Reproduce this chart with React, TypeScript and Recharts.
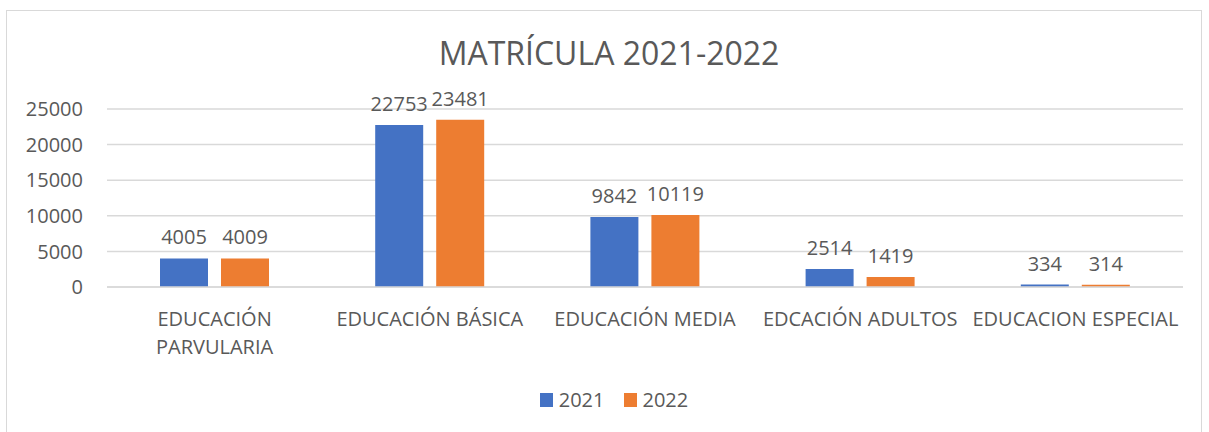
import React from 'react';
import { BarChart, Bar, XAxis, YAxis, CartesianGrid, LabelList, Legend } from 'recharts';

const categories = ['EDUCACIÓN PARVULARIA', 'EDUCACIÓN BÁSICA', 'EDUCACIÓN MEDIA', 'EDCACIÓN ADULTOS', 'EDUCACION ESPECIAL'];
const values2021 = [4005, 22753, 9842, 2514, 334];
const values2022 = [4009, 23481, 10119, 1419, 314];
const yTicks = [0, 5000, 10000, 15000, 20000, 25000];
const seriesNames = ['2021', '2022'];
const title = 'MATRÍCULA 2021-2022';

const data = categories.map((c, i) => ({ name: c, y2021: values2021[i], y2022: values2022[i] }));

const FONT = '"Open Sans", sans-serif';
const TEXT = '#595959';
const BLUE = '#4472C4';
const ORANGE = '#ED7D31';
const GRID = '#D9D9D9';

let ctx: CanvasRenderingContext2D | null = null;
const measure = (s: string) => {
  if (!ctx) {
    const c = document.createElement('canvas');
    ctx = c.getContext('2d');
  }
  if (!ctx) return s.length * 12;
  ctx.font = '20px "Open Sans"';
  return ctx.measureText(s).width;
};

const wrap = (s: string, maxW: number) => {
  const words = s.split(' ');
  const lines: string[] = [];
  let cur = '';
  for (const w of words) {
    const test = cur ? cur + ' ' + w : w;
    if (cur && measure(test) > maxW) {
      lines.push(cur);
      cur = w;
    } else {
      cur = test;
    }
  }
  if (cur) lines.push(cur);
  return lines;
};

const XTick = (props: any) => {
  const { x, y, payload } = props;
  const lines = wrap(String(payload.value), 214);
  return (
    <text x={x} y={y} textAnchor="middle" fill={TEXT} style={{ fontFamily: FONT, fontSize: 20 }}>
      {lines.map((l, i) => (
        <tspan key={i} x={x} dy={i === 0 ? 14 : 28}>{l}</tspan>
      ))}
    </text>
  );
};

const LegendContent = (props: any) => {
  const { payload } = props;
  return (
    <div style={{ display: 'flex', justifyContent: 'center', alignItems: 'center', fontFamily: FONT, fontSize: 20, color: TEXT, lineHeight: '28px' }}>
      {(payload || []).map((p: any, i: number) => (
        <div key={i} style={{ display: 'flex', alignItems: 'center', marginRight: i === 0 ? 19 : 0 }}>
          <span style={{ display: 'inline-block', width: 13, height: 14, background: p.color, marginRight: 6 }} />
          <span>{p.value}</span>
        </div>
      ))}
    </div>
  );
};

export default function App() {
  return (
    <div style={{ position: 'absolute', left: 0, top: 0, width: 1209, height: 432, background: '#fff', overflow: 'hidden' }}>
      <div style={{ position: 'absolute', left: 6, top: 10, width: 1196, height: 440, border: '1px solid #D9D9D9', boxSizing: 'border-box' }} />
      <svg style={{ position: 'absolute', left: 0, top: 0 }} width={1209} height={100}>
        <text x={609} y={65} textAnchor="middle" fill={TEXT} style={{ fontFamily: FONT, fontSize: 32 }}>{title}</text>
      </svg>
      <div style={{ position: 'absolute', left: 0, top: 0 }}>
        <BarChart width={1209} height={432} data={data} margin={{ top: 109, right: 26, left: 0, bottom: 0 }} barSize={48} barGap={13}>
          <CartesianGrid vertical={false} stroke={GRID} strokeWidth={1.5} />
          <XAxis
            dataKey="name"
            interval={0}
            height={145}
            tickLine={false}
            tickSize={0}
            tickMargin={25}
            axisLine={{ stroke: GRID, strokeWidth: 1.5 }}
            tick={<XTick />}
          />
          <YAxis
            width={107}
            domain={[0, 25000]}
            ticks={yTicks}
            axisLine={false}
            tickLine={false}
            tickSize={0}
            tickMargin={24}
            tick={{ fill: TEXT, fontSize: 20, fontFamily: FONT }}
          />
          <Legend
            verticalAlign="middle"
            align="center"
            layout="horizontal"
            wrapperStyle={{ top: 386, left: 0, width: 1228 }}
            content={<LegendContent />}
          />
          <Bar dataKey="y2021" name={seriesNames[0]} fill={BLUE} isAnimationActive={false}>
            <LabelList dataKey="y2021" position="top" offset={14} fill={TEXT} style={{ fontFamily: FONT, fontSize: 20 }} />
          </Bar>
          <Bar dataKey="y2022" name={seriesNames[1]} fill={ORANGE} isAnimationActive={false}>
            <LabelList dataKey="y2022" position="top" offset={14} fill={TEXT} style={{ fontFamily: FONT, fontSize: 20 }} />
          </Bar>
        </BarChart>
      </div>
    </div>
  );
}
